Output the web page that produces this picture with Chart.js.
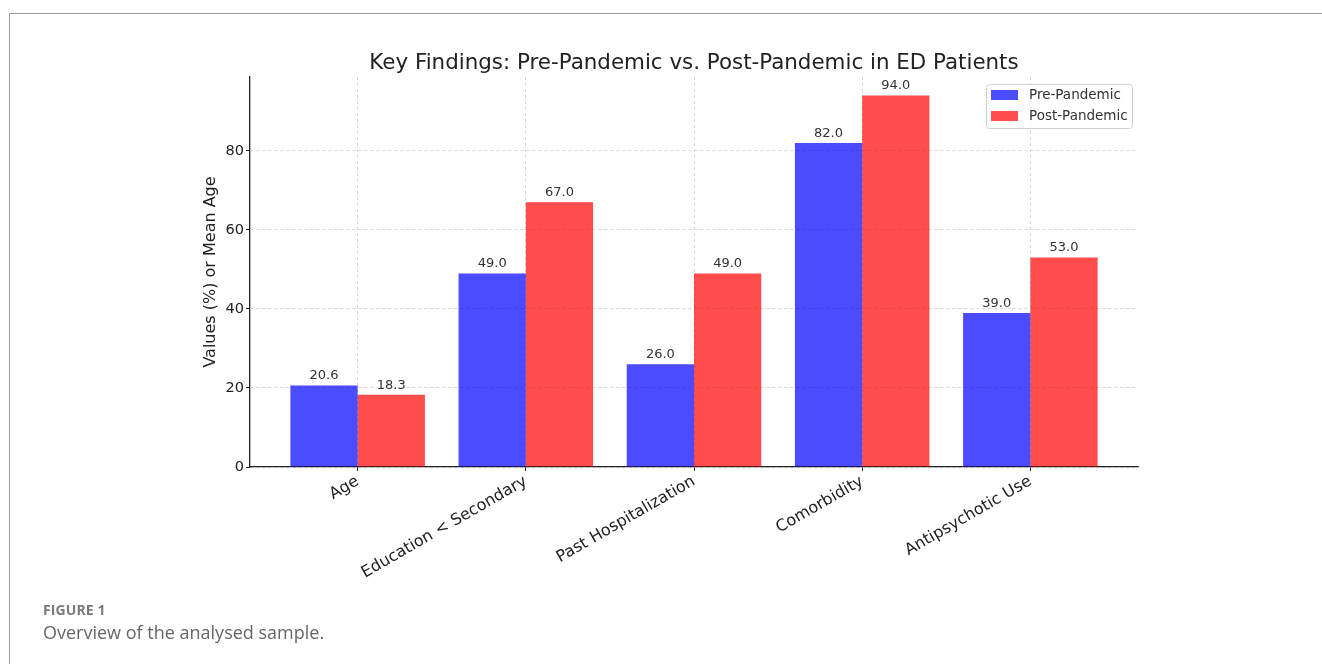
<!DOCTYPE html>
<html><head><meta charset="utf-8">
<script src="https://cdn.jsdelivr.net/npm/chart.js@4/dist/chart.umd.min.js"></script>
<style>
html,body{margin:0;padding:0;background:#fff;width:1322px;height:664px;overflow:hidden;}
#wrap{position:absolute;left:0;top:0;width:1322px;height:664px;}
#frame{position:absolute;left:9px;top:13px;width:1320px;height:700px;border-left:1px solid #9a9a9a;border-top:1px solid #9a9a9a;}
#cap1{position:absolute;left:43px;top:600px;font-family:"Open Sans",sans-serif;font-weight:700;font-size:14px;color:#7a7a7a;letter-spacing:0.1px;}
#cap2{position:absolute;left:43px;top:620px;font-family:"Open Sans",sans-serif;font-size:18px;color:#666;}
canvas{position:absolute;left:0;top:0;}
</style></head><body>
<div id="frame"></div>
<div id="wrap"><canvas id="c" width="1322" height="664"></canvas></div>
<div id="cap1">FIGURE 1</div>
<div id="cap2">Overview of the analysed sample.</div>
<script>
const categories = ["Age", "Education < Secondary", "Past Hospitalization", "Comorbidity", "Antipsychotic Use"];
const preValues = [20.6, 49.0, 26.0, 82.0, 39.0];
const postValues = [18.3, 67.0, 49.0, 94.0, 53.0];
const yTicks = [0, 20, 40, 60, 80];
const seriesNames = ["Pre-Pandemic", "Post-Pandemic"];
const titleText = "Key Findings: Pre-Pandemic vs. Post-Pandemic in ED Patients";
const yTitle = "Values (%) or Mean Age";

const blue = "rgba(0,0,255,0.7)";
const red = "rgba(255,0,0,0.7)";

const labelPlugin = {
  id: "extras",
  afterDatasetsDraw(chart) {
    const ctx = chart.ctx;
    ctx.save();
    ctx.font = '13px "DejaVu Sans"';
    ctx.fillStyle = "#333";
    ctx.textAlign = "center";
    ctx.textBaseline = "bottom";
    chart.data.datasets.forEach((ds, di) => {
      const meta = chart.getDatasetMeta(di);
      meta.data.forEach((el, i) => {
        ctx.fillText(ds.data[i].y.toFixed(1), el.x, el.y - 3);
      });
    });
    // title
    ctx.font = '21.4px "DejaVu Sans"';
    ctx.fillStyle = "#222";
    ctx.textBaseline = "alphabetic";
    const ca = chart.chartArea;
    ctx.fillText(titleText, (ca.left + ca.right) / 2, 69);
    // legend
    const lx = 986, ly = 84, lw = 146, lh = 44;
    ctx.fillStyle = "rgba(255,255,255,0.85)";
    ctx.strokeStyle = "#d0d0d0";
    ctx.lineWidth = 1;
    ctx.beginPath();
    ctx.roundRect(lx + 0.5, ly + 0.5, lw, lh, 3);
    ctx.fill();
    ctx.stroke();
    ctx.font = '13.5px "DejaVu Sans"';
    ctx.textAlign = "left";
    ctx.textBaseline = "middle";
    chart.data.datasets.forEach((ds, di) => {
      const cy = 95 + di * 21;
      ctx.fillStyle = ds.backgroundColor;
      ctx.fillRect(991, cy - 5, 27, 10);
      ctx.fillStyle = "#333";
      ctx.fillText(ds.label, 1029, cy);
    });
    ctx.restore();
  }
};

new Chart(document.getElementById("c"), {
  type: "bar",
  data: {
    datasets: [
      { label: seriesNames[0], data: preValues.map((v, i) => ({ x: i, y: v })), backgroundColor: blue, borderWidth: 0 },
      { label: seriesNames[1], data: postValues.map((v, i) => ({ x: i, y: v })), backgroundColor: red, borderWidth: 0 }
    ]
  },
  options: {
    responsive: false,
    animation: false,
    layout: { padding: { top: 77, right: 184, left: 201, bottom: 0 } },
    plugins: { legend: { display: false }, title: { display: false }, tooltip: { enabled: false } },
    datasets: { bar: { categoryPercentage: 0.8, barPercentage: 1.0 } },
    scales: {
      x: {
        type: "linear",
        min: -0.64, max: 4.64,
        offset: false,
        afterBuildTicks(s) { s.ticks = categories.map((c, i) => ({ value: i })); },
        afterFit(s) { s.height = 197; },
        ticks: {
          autoSkip: false,
          maxRotation: 30, minRotation: 30,
          font: { family: "DejaVu Sans", size: 16 },
          color: "#222",
          padding: 1,
          callback: (v) => categories[v]
        },
        grid: {
          offset: false,
          color: "#cfcfcf", lineWidth: 0.8,
          tickColor: "#222", tickLength: 4, tickBorderDash: [], tickWidth: 1
        },
        border: { display: true, color: "#222", width: 1.3, dash: [3, 3] }
      },
      y: {
        min: 0, max: 98.7,
        afterBuildTicks(s) { s.ticks = yTicks.map(v => ({ value: v })); },
        afterFit(s) { s.width = 49; },
        ticks: { font: { family: "DejaVu Sans", size: 14.5 }, color: "#222", padding: 2 },
        title: { display: true, text: yTitle, font: { family: "DejaVu Sans", size: 16 }, color: "#222", padding: { top: 0, bottom: 0 } },
        grid: {
          color: "#cfcfcf", lineWidth: 0.8,
          tickColor: "#222", tickLength: 4, tickBorderDash: [], tickWidth: 1
        },
        border: { display: true, color: "#222", width: 1.3, dash: [3, 3] }
      }
    }
  },
  plugins: [labelPlugin]
});
</script>
</body></html>
